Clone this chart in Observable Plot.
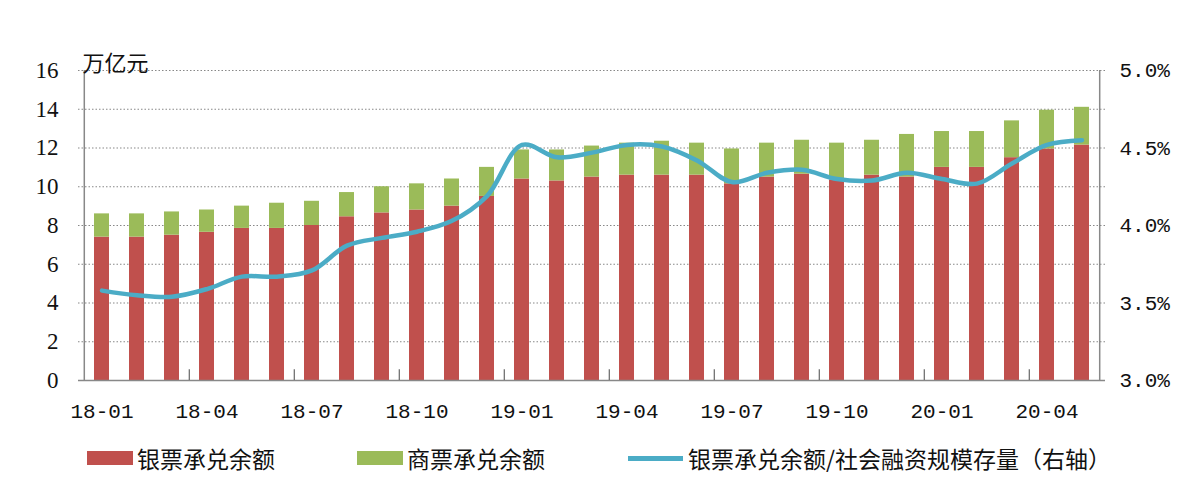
<!DOCTYPE html>
<html>
<head>
<meta charset="utf-8">
<script src="https://cdn.jsdelivr.net/npm/d3@7"></script>
<script src="https://cdn.jsdelivr.net/npm/@observablehq/plot@0.6"></script>
<style>
  html, body { margin: 0; padding: 0; background: #fff; }
  #wrap { position: relative; width: 1199px; height: 488px; font-family: "Noto Sans CJK SC", sans-serif; }
  .leg { position: absolute; top: 444px; height: 28px; display: flex; align-items: center; font-size: 23px; color: #111; }
  .sw { width: 46px; height: 14px; margin-right: 4px; }
  .ln { width: 55px; height: 5px; margin-right: 5px; }
</style>
</head>
<body>
<div id="wrap"></div>
<script>
const months = ["18-01","18-02","18-03","18-04","18-05","18-06","18-07","18-08","18-09","18-10","18-11","18-12",
                "19-01","19-02","19-03","19-04","19-05","19-06","19-07","19-08","19-09","19-10","19-11","19-12",
                "20-01","20-02","20-03","20-04","20-05"];
// 银票承兑余额 (万亿元)
const bankBills = [7.40,7.40,7.50,7.65,7.85,7.85,8.00,8.45,8.65,8.80,9.00,9.50,
                   10.40,10.30,10.50,10.60,10.60,10.60,10.15,10.50,10.65,10.35,10.60,10.50,
                   11.00,11.00,11.50,11.95,12.15];
// 商票承兑余额 (万亿元)
const commBills = [1.20,1.20,1.20,1.15,1.15,1.30,1.25,1.25,1.35,1.35,1.40,1.50,
                   1.50,1.60,1.60,1.65,1.75,1.65,1.80,1.75,1.75,1.90,1.80,2.20,
                   1.85,1.85,1.90,2.00,1.95];
// 银票承兑余额/社会融资规模存量 (%)
const ratio = [3.58,3.55,3.54,3.59,3.67,3.67,3.71,3.87,3.92,3.96,4.03,4.19,
               4.52,4.44,4.47,4.52,4.51,4.42,4.28,4.34,4.36,4.30,4.29,4.34,
               4.30,4.27,4.40,4.52,4.55];
const xTickLabels = ["18-01","18-04","18-07","18-10","19-01","19-04","19-07","19-10","20-01","20-04"];
const xTickMarks = ["18-04","18-07","18-10","19-01","19-04","19-07","19-10","20-01","20-04"];
const leftTicks = [0,2,4,6,8,10,12,14,16];
const rightTicks = [3.0,3.5,4.0,4.5,5.0];
const seriesNames = ["银票承兑余额","商票承兑余额"];
const lineName = "银票承兑余额/社会融资规模存量（右轴）";

const W = 1199, H = 438, ML = 78, MR = 94, MT = 70, MB = 58;
const step = (W - ML - MR) / months.length;
const toLeft = p => (p - 3) * 8; // 3%..5% -> 0..16

const barData = [];
months.forEach((m, i) => {
  barData.push({month: m, series: seriesNames[0], value: bankBills[i]});
  barData.push({month: m, series: seriesNames[1], value: commBills[i]});
});
const lineData = months.map((m, i) => ({month: m, r: ratio[i]}));

const chart = Plot.plot({
  width: W, height: H, marginLeft: ML, marginRight: MR, marginTop: MT, marginBottom: MB,
  style: {fontFamily: "'Liberation Mono', monospace", fontSize: "20px", color: "#111", background: "#fff"},
  x: {domain: months, paddingInner: 0.58, paddingOuter: 0.29, axis: null},
  y: {domain: [0, 16], axis: null},
  color: {domain: seriesNames, range: ["#c0504d", "#9bbb59"]},
  marks: [
    Plot.ruleY(leftTicks.filter(d => d > 0), {stroke: "#888", strokeDasharray: "1.5,2", strokeWidth: 1.2}),
    Plot.barY(barData, {x: "month", y: "value", fill: "series"}),
    Plot.line(lineData, {x: "month", y: d => toLeft(d.r), curve: "catmull-rom", stroke: "#4bacc6", strokeWidth: 4.5}),
    // axis lines
    Plot.ruleY([0], {stroke: "#888", strokeWidth: 1.5}),
    Plot.ruleX([months[0]], {y1: 0, y2: 16, dx: -step / 2, stroke: "#888", strokeWidth: 1.5}),
    Plot.ruleX([months[months.length - 1]], {y1: 0, y2: 16, dx: step / 2, stroke: "#888", strokeWidth: 1.5}),
    // tick marks
    Plot.ruleX(xTickMarks, {y1: 0, y2: 0.55, dx: -step / 2, stroke: "#666", strokeWidth: 1.2}),
    Plot.tickY(leftTicks, {y: d => d, x: months[0], dx: -(step - step * 0.42) / 2 - 2, stroke: "#666", strokeWidth: 1.2}),
    Plot.tickY(rightTicks, {y: d => toLeft(d), x: months[months.length - 1], dx: (step - step * 0.42) / 2 + 2, stroke: "#666", strokeWidth: 1.2}),
    // axes
    Plot.axisX({ticks: xTickLabels, tickSize: 0, tickPadding: 23, fontSize: 21, letterSpacing: "-1px"}),
    Plot.axisY({anchor: "left", ticks: leftTicks, tickSize: 0, tickPadding: 20, fontSize: 23,
                fontFamily: "'Liberation Serif', serif", label: null}),
    Plot.axisY(rightTicks.map(toLeft), {anchor: "right", tickSize: 0, tickPadding: 14, fontSize: 21, label: null,
                letterSpacing: "-1px", tickFormat: v => (3 + v / 8).toFixed(1) + "%"}),
    Plot.text(["万亿元"], {frameAnchor: "top-left", dx: 4, dy: -15, textAnchor: "start", fontSize: 22,
                fontFamily: "'Noto Sans CJK SC', sans-serif"})
  ]
});

const wrap = document.getElementById("wrap");
wrap.appendChild(chart);

function addLegend(left, kind, color, label) {
  const d = document.createElement("div");
  d.className = "leg";
  d.style.left = left + "px";
  const s = document.createElement("div");
  s.className = kind;
  s.style.background = color;
  const t = document.createElement("span");
  t.textContent = label;
  d.appendChild(s); d.appendChild(t);
  wrap.appendChild(d);
}
addLegend(87, "sw", "#c0504d", seriesNames[0]);
addLegend(357, "sw", "#9bbb59", seriesNames[1]);
addLegend(628, "ln", "#4bacc6", lineName);
</script>
</body>
</html>
